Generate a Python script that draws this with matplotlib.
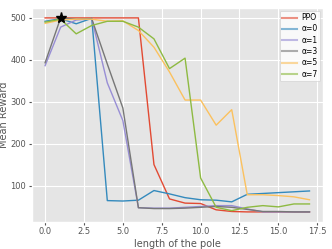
import matplotlib
matplotlib.use("Agg")
import matplotlib.pyplot as plt
from matplotlib.lines import Line2D

plt.style.use("ggplot")

x = list(range(18))
ppo   = [500, 500, 500, 500, 500, 500, 500, 150, 68, 58, 57, 42, 38, 37, 37, 37, 37, 37]
a0    = [492, 498, 486, 499, 64, 63, 65, 88, 80, 71, 66, 65, 61, 79, 81, 83, 85, 87]
a1    = [386, 478, 495, 498, 345, 255, 47, 46, 46, 48, 50, 52, 52, 44, 37, 37, 37, 37]
a3    = [393, 500, 497, 498, 390, 285, 47, 45, 45, 46, 48, 50, 48, 43, 38, 38, 37, 37]
a5    = [487, 495, 497, 497, 492, 493, 470, 430, 371, 304, 304, 244, 281, 78, 78, 76, 73, 66]
a7    = [490, 497, 462, 482, 492, 492, 478, 450, 379, 404, 118, 48, 40, 48, 52, 49, 56, 56]
labels = ["PPO", "α=0", "α=1", "α=3", "α=5", "α=7"]
series = [ppo, a0, a1, a3, a5, a7]
star_x, star_y = 1, 500

fig = plt.figure(figsize=(3.32, 2.49), dpi=100)
ax = fig.add_axes([0.096, 0.110, 0.876, 0.857])
colors = plt.rcParams["axes.prop_cycle"].by_key()["color"]
for s, lab, c in zip(series, labels, colors):
    ax.plot(x, s, color=c, lw=1.0, label=lab)
ax.plot([star_x], [star_y], marker="*", color="black", ms=8, ls="none")

ax.set_xticks([0, 2.5, 5, 7.5, 10, 12.5, 15, 17.5])
ax.set_yticks([100, 200, 300, 400, 500])
ax.tick_params(labelsize=6, length=2, pad=2)
ax.set_xlabel("length of the pole", fontsize=7, labelpad=2)
ax.set_ylabel("Mean Reward", fontsize=7)
ax.yaxis.set_label_coords(-0.078, 0.5)

handles = [Line2D([], [], color=c, lw=1.5, alpha=0.6) for c in colors[:6]]
leg = ax.legend(handles, labels, loc="upper right", fontsize=5.5, facecolor="white",
                framealpha=0.8, handlelength=1.9, borderpad=0.35, labelspacing=0.3,
                handletextpad=0.6, borderaxespad=0.3)

fig.savefig("out.png", dpi=100)
